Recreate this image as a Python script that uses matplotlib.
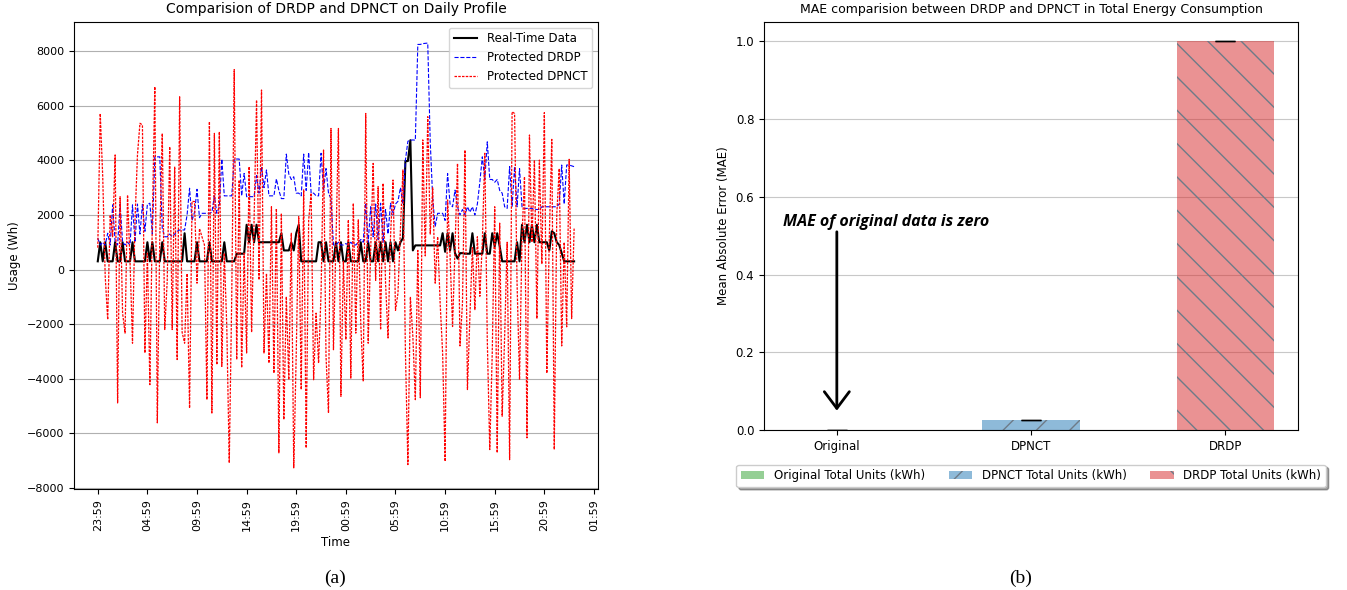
import numpy as np
import pandas as pd
import matplotlib
matplotlib.use('Agg')
import matplotlib.pyplot as plt
import matplotlib.dates as mdates
from matplotlib.colors import to_rgba

# ---- (a) daily profile, 15 min readings ----
START = "2019-06-01 23:59"
STEP = "15min"

REAL_TIME = [
    300, 1000, 300, 1000, 300, 300, 300, 1000, 300, 300, 1000, 300,
    300, 300, 1000, 300, 300, 300, 300, 300, 1000, 300, 1000, 300,
    300, 300, 1000, 300, 300, 300, 300, 300, 300, 300, 300, 1330,
    300, 300, 300, 300, 1000, 300, 300, 300, 300, 1000, 300, 300,
    300, 300, 300, 1000, 300, 300, 300, 300, 580, 580, 580, 580,
    1640, 1000, 1640, 1000, 1640, 1000, 1000, 1000, 1000, 1000, 1000, 1000,
    1000, 1000, 1330, 700, 700, 700, 1000, 700, 1330, 1640, 300, 300,
    300, 300, 300, 300, 300, 1000, 1000, 300, 1000, 300, 300, 300,
    1000, 300, 1000, 300, 300, 1000, 300, 300, 300, 300, 1000, 300,
    300, 1000, 300, 300, 1000, 300, 1000, 300, 1000, 300, 1000, 300,
    1000, 700, 1000, 1150, 3975, 3975, 4740, 700, 885, 885, 885, 885,
    885, 885, 885, 885, 885, 885, 885, 1330, 650, 1330, 700, 1330,
    600, 400, 600, 600, 580, 580, 580, 1330, 580, 580, 580, 580,
    1330, 580, 580, 1330, 850, 1330, 850, 300, 300, 300, 300, 300,
    300, 1000, 300, 1640, 1000, 1640, 1000, 1640, 1000, 1640, 1000, 1000,
    1000, 1000, 700, 1400, 1330, 1000, 900, 600, 300, 300, 300, 300,
    300,
]

DRDP = [
    1150, 900, 1000, 900, 1330, 900, 2370, 1000, 900, 2400, 1000, 900,
    1000, 900, 2370, 1000, 2400, 1300, 2390, 1400, 2390, 2430, 1300, 4130,
    4130, 4130, 1500, 1200, 1200, 1300, 1200, 1300, 1400, 1450, 1450, 1450,
    2000, 2980, 1800, 2100, 2940, 1900, 2060, 2060, 2060, 2060, 2100, 2700,
    2060, 2300, 4050, 2700, 2700, 2700, 2700, 4050, 4050, 4050, 2700, 3520,
    2670, 2670, 2670, 2670, 3440, 2800, 3770, 3000, 3650, 2700, 2700, 2700,
    3320, 2900, 2600, 2600, 4230, 3500, 3300, 3400, 2800, 2800, 2700, 4230,
    2900, 4290, 2800, 2800, 2700, 2700, 4260, 2900, 3700, 2800, 2600, 900,
    900, 1000, 900, 900, 950, 900, 1000, 900, 900, 1000, 1100, 1000,
    2430, 1000, 2300, 1200, 2400, 1100, 2430, 1000, 2200, 1300, 2430, 2000,
    2400, 2500, 3000, 2400, 4010, 4700, 4740, 4750, 4740, 8250, 8250, 8280,
    8290, 8300, 4700, 2600, 1570, 2060, 2060, 2060, 1800, 3520, 2400, 2300,
    2910, 2300, 2000, 2200, 2000, 2300, 2100, 2300, 2000, 2400, 3200, 4130,
    3300, 4680, 3300, 3300, 3200, 3300, 2900, 2800, 2300, 2240, 3770, 2300,
    3770, 2300, 3700, 2300, 2240, 2240, 2240, 2240, 2200, 2200, 2200, 2300,
    2300, 2300, 2300, 2300, 2300, 2300, 2400, 3830, 2400, 3830, 3830, 3800,
    3770,
]

DPNCT = [
    800, 5720, 3400, -250, -1840, 2000, 1200, 4200, -4890, 2670, -1600, -2330,
    2730, 300, -2700, 1800, 4200, 5360, 5300, -3060, 600, -4220, 1800, 6700,
    -5620, 1200, 4990, -2200, -400, 4500, -2200, 3770, -3300, 6330, -2300, -2700,
    -150, -5080, 2500, 2490, -500, 1500, 1200, 900, -4770, 5420, -5260, 4990,
    -3490, 5050, -3550, 600, -2090, -7090, -990, 7330, -3300, 3280, -3600, 600,
    -3060, 3770, -2300, 1800, 6210, -380, 6580, -3060, -140, -3430, 2300, -3800,
    2240, -6720, 2060, -5500, -990, -4040, 1330, -7270, -3060, 1940, -4400, 2920,
    -6540, 1800, 2800, -4040, -1600, -3430, -870, 4380, -3180, -5260, 5170, -2940,
    1000, 5170, -4650, 300, -2570, 1820, -3980, 2430, -2330, 1820, -1960, -4100,
    5720, -2700, 700, 3890, -400, 3040, -2210, 3160, -500, -2510, 1200, 3280,
    -1500, -870, 1500, 3650, -3000, -7150, -1000, -2450, -4770, 700, -4700, 4750,
    500, 5600, 1300, 3000, -500, 1200, -1230, -3060, -7030, 2550, 500, -2090,
    800, 3890, -2800, -1230, 4380, -4400, -1710, 800, -1470, 1200, -980, 1000,
    4260, -2570, -6600, -3060, 2300, -6720, 1700, -5380, -2450, 1000, -6970, 5780,
    5720, -500, -4040, 1200, 3400, -6170, 4930, 1000, 4010, -1800, 4010, 200,
    5750, -3800, 1200, 4770, -6600, 2000, 3700, -2800, 1000, -2100, 4040, -1800,
    1500,
]

TICK_LABEL_COUNT = 11
TICK_EVERY = "5h"

# ---- (b) MAE bars ----
CATEGORIES = ["Original", "DPNCT", "DRDP"]
MAE_VALUES = [0.0, 0.025, 1.0]
MAE_ERR = [0.0, 0.0, 0.0]
BAR_LABELS = ["Original Total Units (kWh)", "DPNCT Total Units (kWh)",
              "DRDP Total Units (kWh)"]
BAR_COLORS = ["tab:green", "tab:blue", "tab:red"]
BAR_HATCHES = ["o", "/", "\\"]

fig = plt.figure(figsize=(13.47, 5.90), dpi=100)

# ========== (a) ==========
ax1 = fig.add_axes([0.0549, 0.171, 0.389, 0.792])
times = pd.date_range(START, periods=len(REAL_TIME), freq=STEP)
ax1.plot(times, REAL_TIME, color='black', lw=1.5, label='Real-Time Data')
ax1.plot(times, DRDP, color='blue', ls='--', lw=0.8, label='Protected DRDP')
ax1.plot(times, DPNCT, color='red', ls=(0, (2, 1)), lw=0.9, label='Protected DPNCT')

ticks = pd.date_range(START, periods=TICK_LABEL_COUNT, freq=TICK_EVERY)
ax1.set_xticks(mdates.date2num(ticks.to_pydatetime()))
ax1.xaxis.set_major_formatter(mdates.DateFormatter('%H:%M'))
ax1.tick_params(axis='x', labelrotation=90, labelsize=8)
ax1.tick_params(axis='y', labelsize=8)
ax1.yaxis.grid(True, color='#b0b0b0')
ax1.set_axisbelow(True)
ax1.set_xlabel('Time', fontsize=8.5)
ax1.set_ylabel('Usage (Wh)', fontsize=8.5)
ax1.set_title('Comparision of DRDP and DPNCT on Daily Profile', fontsize=10)
ax1.legend(loc='upper right', fontsize=8.5)

# ========== (b) ==========
ax2 = fig.add_axes([0.5672, 0.271, 0.3964, 0.692])
for cat, val, err, lab, col, hat in zip(CATEGORIES, MAE_VALUES, MAE_ERR,
                                        BAR_LABELS, BAR_COLORS, BAR_HATCHES):
    ax2.bar(cat, val, width=0.5, yerr=err, capsize=7, color=to_rgba(col, 0.5),
            hatch=hat, edgecolor='#6e7b88', linewidth=0, label=lab)
ax2.yaxis.grid(True, color='#c8c8c8')
ax2.set_axisbelow(True)
ax2.tick_params(labelsize=8.5)
ax2.set_ylabel('Mean Absolute Error (MAE)', fontsize=8.5)
ax2.set_title('MAE comparision between DRDP and DPNCT in Total Energy Consumption',
              fontsize=9)
ax2.text(-0.277, 0.535, 'MAE of original data is zero', ha='left', va='center',
         fontsize=11.5, fontweight='bold', fontstyle='italic', family='Open Sans')
ax2.annotate('', xy=(0, 0.05), xytext=(0, 0.51),
             arrowprops=dict(arrowstyle='->, head_length=0.6, head_width=0.45',
                             lw=2, color='black', mutation_scale=20,
                             shrinkA=0, shrinkB=0))
ax2.legend(loc='upper center', bbox_to_anchor=(0.5, -0.07), ncol=3,
           fontsize=8.5, shadow=True, fancybox=True)

fig.text(0.249, 0.012, '(a)', family='Liberation Serif', fontsize=14, ha='center')
fig.text(0.758, 0.012, '(b)', family='Liberation Serif', fontsize=14, ha='center')

fig.savefig('out.png', dpi=100)
